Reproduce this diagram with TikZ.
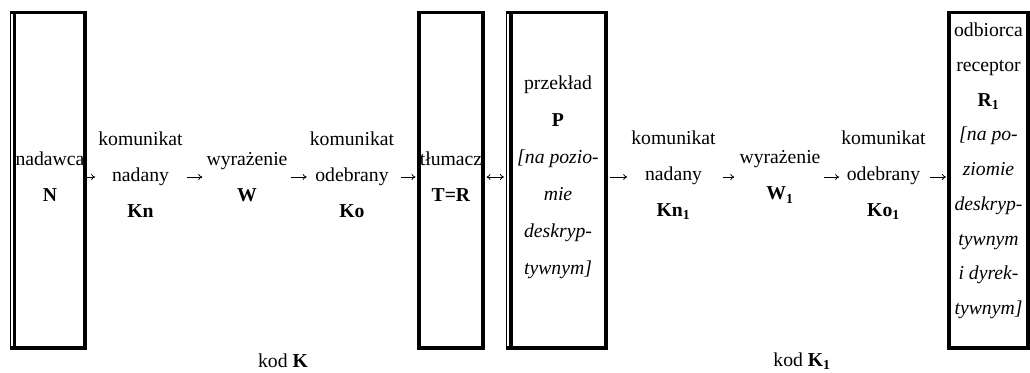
\documentclass[tikz,border=0pt]{standalone}
\usepackage{fontspec}
\setmainfont{Liberation Serif}
\usetikzlibrary{arrows.meta}
\begin{document}
\begin{tikzpicture}[x=1pt,y=-1pt,
  box/.style={draw,line width=3.5pt,outer sep=0pt,inner sep=0pt,minimum height=335.5pt},
  txt/.style={inner sep=0pt,align=center,font=\fontsize{19.7}{36}\selectfont},
  txtp/.style={inner sep=0pt,align=center,font=\fontsize{19.7}{37}\selectfont},
  txtr/.style={inner sep=0pt,align=center,font=\fontsize{19.7}{34.75}\selectfont},
  arr/.style={-{To[length=4pt,width=6pt]},line width=0.8pt},
  darr/.style={{To[length=4pt,width=6pt]}-{To[length=4pt,width=6pt]},line width=0.8pt},
  thinl/.style={line width=1.2pt}]
\fill[white] (0,0) rectangle (1030,372);
\useasboundingbox (0,0) rectangle (1030,372);
% boxes
\node[box,minimum width=70.5pt] (bN) at (49.75,180.25) {};
\node[box,minimum width=64pt] (bT) at (451,180.25) {};
\node[box,minimum width=95pt] (bP) at (558.5,180.25) {};
\node[box,minimum width=79pt] (bR) at (988.5,180.25) {};
% double left lines
\draw[thinl] ([xshift=-4pt,yshift=-1.75pt]bN.north west) -- ([xshift=-4pt,yshift=1.75pt]bN.south west);
\draw[line width=3.5pt] ([xshift=-4.6pt]bN.north west) -- (bN.north west);
\draw[line width=3.5pt] ([xshift=-4.6pt]bN.south west) -- (bN.south west);
\draw[thinl] ([xshift=-4.5pt,yshift=-1.75pt]bP.north west) -- ([xshift=-4.5pt,yshift=1.75pt]bP.south west);
\draw[line width=3.5pt] ([xshift=-5.1pt]bP.north west) -- (bP.north west);
\draw[line width=3.5pt] ([xshift=-5.1pt]bP.south west) -- (bP.south west);
% texts
\node[txt] (tN) at (50,177) {nadawca\\\textbf{N}};
\node[txt] (kn) at (140.5,175) {komunikat\\nadany\\\textbf{Kn}};
\node[txt] (w) at (247,177) {wyrażenie\\\textbf{W}};
\node[txt] (ko) at (352,175) {komunikat\\odebrany\\\textbf{Ko}};
\node[txt] (tT) at (451,177) {tłumacz\\\textbf{T=R}};
\node[txtp] (tP) at (558,177) {przekład\\\textbf{P}\\\textit{[na pozio-}\\\textit{mie}\\\textit{deskryp-}\\\textit{tywnym]}};
\node[txt] (kn1) at (673.5,175) {komunikat\\nadany\\\textbf{Kn\textsubscript{1}}};
\node[txt] (w1) at (780,177) {wyrażenie\\\textbf{W\textsubscript{1}}};
\node[txt] (ko1) at (883.5,175) {komunikat\\odebrany\\\textbf{Ko\textsubscript{1}}};
\node[txtr] (tR) at (988.5,171) {odbiorca\\receptor\\\textbf{R\textsubscript{1}}\\\textit{[na po-}\\\textit{ziomie}\\\textit{deskryp-}\\\textit{tywnym}\\\textit{i dyrek-}\\\textit{tywnym]}};
\node[txt] (kK) at (283,361) {kod \textbf{K}};
\node[txt] (kK1) at (802,361) {kod \textbf{K\textsubscript{1}}};
% arrows
\draw[arr,shorten <=1.75pt] (bN.east |- 0,177) -- (kn.west |- 0,177) [shorten >=3pt];
\draw[arr,shorten <=4pt,shorten >=4pt] (kn.east |- 0,177) -- (w.west |- 0,177);
\draw[arr,shorten <=3pt,shorten >=3pt] (w.east |- 0,177) -- (ko.west |- 0,177);
\draw[arr,shorten <=7pt,shorten >=3.5pt] (ko.east |- 0,177) -- (bT.west |- 0,177);
\draw[darr,shorten <=3.5pt,shorten >=7pt] (bT.east |- 0,177) -- (bP.west |- 0,177);
\draw[arr,shorten <=3.5pt,shorten >=4pt] (bP.east |- 0,177) -- (kn1.west |- 0,177);
\draw[arr,shorten <=7pt,shorten >=5pt] (kn1.east |- 0,177) -- (w1.west |- 0,177);
\draw[arr,shorten <=3pt,shorten >=2pt] (w1.east |- 0,177) -- (ko1.west |- 0,177);
\draw[arr,shorten <=4pt,shorten >=3pt] (ko1.east |- 0,177) -- (bR.west |- 0,177);
\end{tikzpicture}
\end{document}
